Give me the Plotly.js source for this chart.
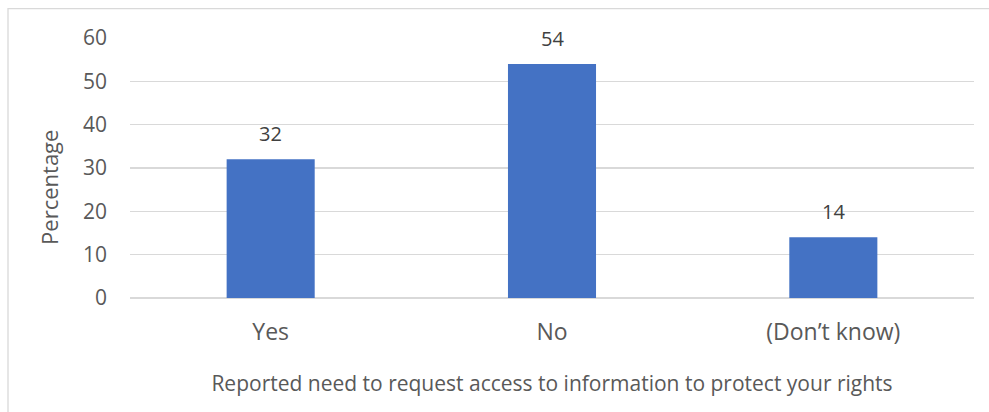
<!DOCTYPE html>
<html>
<head>
<meta charset="utf-8">
<script src="https://cdn.plot.ly/plotly-3.0.1.min.js"></script>
<style>
  html, body { margin: 0; padding: 0; background: #fff; }
  #chart { width: 989px; height: 412px; }
</style>
</head>
<body>
<div id="chart"></div>
<script>
// Survey responses (percent)
const categories = ['Yes', 'No', '(Don\u2019t know)'];
const percentages = [32, 54, 14];
const yTicks = [0, 10, 20, 30, 40, 50, 60];

const textColor = '#595959';
const gridColor = '#D9D9D9';
const fontFamily = '"Open Sans", "Noto Sans", sans-serif';

const W = 989, H = 412;
const margin = { l: 130, r: 15, t: 37.5, b: 113.5, pad: 0 };
const pw = W - margin.l - margin.r;
const ph = H - margin.t - margin.b;

const trace = {
  type: 'bar',
  x: categories,
  y: percentages,
  marker: { color: '#4472C4' },
  hoverinfo: 'none'
};

// value labels sit a little above each bar
const valueLabels = categories.map((c, i) => ({
  x: c,
  y: percentages[i],
  xref: 'x',
  yref: 'y',
  text: String(percentages[i]),
  showarrow: false,
  yanchor: 'bottom',
  yshift: 10,
  font: { family: fontFamily, size: 20, color: '#404040' }
}));

// vertical axis caption, placed a bit below the plot's middle
const yCaption = {
  text: 'Percentage',
  xref: 'paper', yref: 'paper',
  x: (49 - margin.l) / pw,
  y: (H - margin.b - 188) / ph,
  xanchor: 'center', yanchor: 'middle',
  textangle: -90,
  showarrow: false,
  font: { family: fontFamily, size: 22, color: textColor }
};

const layout = {
  width: W,
  height: H,
  margin: margin,
  paper_bgcolor: '#fff',
  plot_bgcolor: '#fff',
  showlegend: false,
  bargap: 0.687,
  font: { family: fontFamily, color: textColor, size: 20 },
  xaxis: {
    type: 'category',
    showgrid: false,
    zeroline: false,
    showline: false,
    ticks: '',
    tickfont: { size: 23, color: textColor },
    ticklabelstandoff: 18,
    title: {
      text: 'Reported need to request access to information to protect your rights',
      font: { size: 21, color: textColor },
      standoff: 30
    }
  },
  yaxis: {
    range: [0, 60],
    tickvals: yTicks,
    showgrid: true,
    gridcolor: gridColor,
    gridwidth: 1.3,
    zeroline: true,
    zerolinecolor: gridColor,
    zerolinewidth: 1.3,
    showline: false,
    ticks: '',
    ticklabelstandoff: 22,
    tickfont: { size: 21, color: textColor }
  },
  annotations: valueLabels.concat([yCaption]),
  shapes: [{
    type: 'rect',
    xref: 'paper', yref: 'paper',
    x0: (8 - margin.l) / pw,
    x1: (W + 5 - margin.l) / pw,
    y0: (-(H + 5 - margin.t - ph)) / ph,
    y1: (H - 8 - margin.b) / ph,
    line: { color: gridColor, width: 1.3 },
    layer: 'below'
  }]
};

Plotly.newPlot('chart', [trace], layout, { staticPlot: true, displayModeBar: false });
</script>
</body>
</html>
